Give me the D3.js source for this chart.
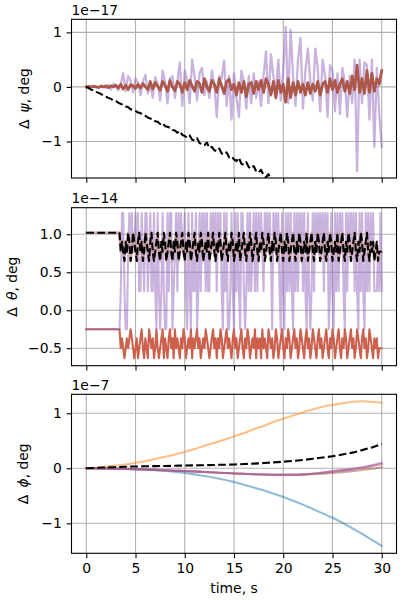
<!DOCTYPE html>
<html><head><meta charset="utf-8">
<script src="https://cdn.jsdelivr.net/npm/d3@7"></script>
<style>body{margin:0;background:#fff}svg{display:block}text{font-family:"DejaVu Sans",sans-serif}</style>
</head><body><svg id="c" width="400" height="600"></svg>
<script>
// ---------- data ----------
const tStep = 0.25;           // noisy series sample step, s
const tStepFine = 0.125;      // finely sampled series step, s
const tStepSmooth = 1;        // smooth series sample step, s
const xTicks = [0,5,10,15,20,25,30];

// Panel 1: delta psi (x1e-17)
const psiTicks = [-1,0,1];
const psiPurple = [0,0.01,-0.01,0.02,0,-0.02,0.03,0.01,-0.02,0.04,
 -0.05,0.06,0.02,-0.06,0.05,0.25,-0.08,0.2,0.12,-0.1,
 0.15,0.08,-0.15,0.1,0.22,-0.12,0.05,-0.2,0.18,0.05,
 -0.25,0.3,0.1,-0.3,0.15,0.2,-0.2,0.1,0.45,-0.35,
 0.3,0.1,-0.3,0.5,0.2,-0.25,0.25,0.35,-0.15,0.1,
 -0.2,0.3,0.05,-0.55,0.2,0.15,0.48,-0.35,0.2,-0.6,
 0.25,-0.2,-0.55,0.3,0.1,-0.4,0.2,-0.3,0.25,-0.2,
 0.1,-0.35,0.2,0.65,-0.3,0.6,0.2,-0.1,0.5,-0.25,
 0.3,1.1,-0.3,1.05,0.2,-0.35,0.5,0.9,-0.4,0.3,
 0.7,0.1,-0.25,0.7,0.35,-0.45,0.5,0.2,-0.55,0.4,
 0.3,-0.45,0.25,-0.5,0.35,0.1,-0.55,0.2,-0.3,0.5,
 -1.55,0.5,-0.3,0.45,0.4,-0.6,0.5,-1.1,0.35,-0.5,
 -1.1];
const psiRed = [0,0.01,0,0.01,0,-0.01,0.01,0,0.02,-0.01,
 0.02,0,0.03,-0.02,0.05,-0.04,0.03,-0.05,0.04,0.02,
 -0.03,0.05,-0.02,0.06,0,-0.05,0.1,-0.04,0.08,0.02,
 -0.06,0.1,0.03,-0.08,0.12,0,-0.07,0.1,0.05,-0.1,
 0.08,-0.05,0.12,0.02,-0.08,0.1,0.06,-0.1,0.15,0,
 -0.08,0.12,0.05,-0.1,0.15,0.02,-0.12,0.1,0.14,-0.05,
 0.05,-0.15,0.08,-0.1,0.1,-0.18,0.05,0.08,-0.12,0.1,
 -0.05,0.12,-0.1,0.15,0.05,-0.15,0.1,-0.2,0.12,-0.1,
 0.05,-0.28,0.15,-0.2,0.08,-0.15,0.1,-0.1,0.05,-0.15,
 0.08,-0.12,0.05,-0.08,0.1,-0.15,0.05,0.1,-0.1,0.15,
 -0.05,0.12,-0.1,0.05,0.15,-0.08,0.1,-0.12,0.2,-0.05,
 0.4,-0.1,0.15,-0.12,0.3,-0.1,0.25,-0.08,0.15,0.05,
 0.3];
const psiBlack = [0,-0.02,-0.05,-0.06,-0.09,-0.11,-0.13,-0.16,-0.18,-0.2,
 -0.22,-0.25,-0.26,-0.29,-0.31,-0.33,-0.36,-0.37,-0.41,-0.42,
 -0.44,-0.47,-0.48,-0.52,-0.53,-0.56,-0.58,-0.59,-0.63,-0.64,
 -0.68,-0.66,-0.72,-0.73,-0.75,-0.79,-0.8,-0.84,-0.81,-0.88,
 -0.9,-0.93,-0.89,-0.97,-0.98,-0.94,-1.03,-1.05,-1.07,-1.02,
 -1.12,-1.1,-1.16,-1.18,-1.13,-1.22,-1.24,-1.2,-1.29,-1.27,
 -1.33,-1.36,-1.3,-1.41,-1.43,-1.38,-1.47,-1.5,-1.45,-1.55,
 -1.57,-1.52,-1.62,-1.66,-1.6,-1.7,-1.72,-1.69,-1.78,-1.8,
 -1.79];

// Panel 2: delta theta (x1e-14), 0.125 s samples
const thetaTicks = [-0.5,0,0.5,1];
const thetaPurple = [-0.25,-0.25,-0.25,-0.25,-0.25,-0.25,-0.25,-0.25,
 -0.25,-0.25,-0.25,-0.25,-0.25,-0.25,-0.25,-0.25,
 -0.25,-0.25,-0.25,-0.25,-0.25,-0.25,-0.25,-0.25,
 -0.25,-0.25,-0.25,-0.25,
 0.25,1.28,1.28,0.25,-0.25,-0.25,0.77,1.28,
 0.77,1.28,0.77,0.77,1.28,0.77,1.28,0.25,
 0.25,1.28,0.77,0.25,1.28,1.28,0.25,0.77,
 1.28,0.25,0.25,1.28,0.25,-0.25,1.28,0.25,
 -0.25,0.25,1.28,0.25,-0.25,-0.25,1.28,0.25,
 1.28,1.28,-0.25,0.25,0.77,1.28,0.25,1.28,
 0.77,1.28,0.77,0.77,1.28,0.25,-0.25,1.28,
 0.25,-0.25,1.28,0.25,0.25,1.28,-0.25,0.25,
 1.28,0.25,1.28,0.77,1.28,0.25,1.28,0.25,
 0.25,1.28,0.77,1.28,0.77,1.28,0.25,1.28,
 0.77,1.28,0.25,-0.25,1.28,0.25,1.28,-0.25,
 -0.25,0.25,1.28,0.25,-0.25,1.28,0.25,1.28,
 0.25,-0.25,1.28,1.28,0.25,-0.25,0.25,1.28,
 0.25,1.28,0.25,0.77,1.28,0.25,1.28,0.25,
 1.28,0.77,1.28,0.77,0.25,1.28,0.77,1.28,
 0.77,1.28,0.77,-0.25,1.28,0.77,1.28,0.77,
 1.28,0.25,-0.25,1.28,0.25,-0.25,1.28,0.25,
 1.28,0.25,1.28,0.25,-0.25,1.28,0.25,1.28,
 0.25,1.28,0.77,1.28,0.25,1.28,0.25,-0.25,
 1.28,0.25,-0.25,0.25,1.28,0.25,1.28,0.77,
 1.28,0.77,1.28,0.77,1.28,0.25,1.28,0.77,
 1.28,-0.25,0.25,1.28,0.25,-0.25,1.28,0.25,
 1.28,0.25,1.28,0.77,1.28,0.25,-0.25,1.28,
 0.25,1.28,0.77,1.28,0.77,1.28,0.25,1.28,
 0.25,-0.25,1.28,0.25,1.28,0.25,-0.25,1.28,
 0.25,1.28,0.25,1.28,0.77,1.28,0.25,0.25,
 0.25,0.77,0.25,1.28,0.25];
const thetaRed = [-0.25,-0.25,-0.25,-0.25,-0.25,-0.25,-0.25,-0.25,
 -0.25,-0.25,-0.25,-0.25,-0.25,-0.25,-0.25,-0.25,
 -0.25,-0.25,-0.25,-0.25,-0.25,-0.25,-0.25,-0.25,
 -0.25,-0.25,-0.25,-0.25,
 -0.5,-0.37,-0.5,-0.63,-0.5,-0.37,-0.5,-0.37,
 -0.25,-0.37,-0.5,-0.63,-0.5,-0.37,-0.63,-0.5,
 -0.37,-0.25,-0.5,-0.63,-0.37,-0.5,-0.63,-0.25,
 -0.37,-0.5,-0.37,-0.63,-0.5,-0.25,-0.5,-0.63,
 -0.5,-0.37,-0.25,-0.63,-0.37,-0.5,-0.63,-0.37,
 -0.25,-0.5,-0.37,-0.63,-0.25,-0.5,-0.37,-0.5,
 -0.63,-0.37,-0.5,-0.25,-0.37,-0.63,-0.5,-0.37,
 -0.5,-0.25,-0.63,-0.37,-0.5,-0.37,-0.25,-0.5,
 -0.37,-0.63,-0.5,-0.37,-0.5,-0.25,-0.37,-0.5,
 -0.63,-0.5,-0.37,-0.25,-0.5,-0.37,-0.63,-0.37,
 -0.5,-0.25,-0.37,-0.63,-0.5,-0.37,-0.25,-0.5,
 -0.37,-0.5,-0.63,-0.37,-0.25,-0.5,-0.37,-0.63,
 -0.5,-0.37,-0.25,-0.5,-0.63,-0.37,-0.5,-0.25,
 -0.37,-0.63,-0.5,-0.37,-0.5,-0.25,-0.63,-0.37,
 -0.5,-0.37,-0.63,-0.25,-0.5,-0.37,-0.5,-0.63,
 -0.25,-0.37,-0.5,-0.37,-0.63,-0.5,-0.25,-0.37,
 -0.63,-0.5,-0.37,-0.25,-0.5,-0.63,-0.37,-0.5,
 -0.25,-0.37,-0.63,-0.5,-0.37,-0.25,-0.5,-0.37,
 -0.63,-0.5,-0.25,-0.37,-0.5,-0.63,-0.37,-0.25,
 -0.5,-0.37,-0.63,-0.5,-0.25,-0.37,-0.5,-0.63,
 -0.37,-0.25,-0.5,-0.37,-0.63,-0.5,-0.37,-0.25,
 -0.5,-0.63,-0.37,-0.5,-0.25,-0.37,-0.63,-0.5,
 -0.37,-0.25,-0.5,-0.63,-0.37,-0.5,-0.25,-0.37,
 -0.63,-0.5,-0.37,-0.25,-0.5,-0.37,-0.63,-0.5,
 -0.25,-0.37,-0.5,-0.63,-0.37,-0.25,-0.5,-0.37,
 -0.63,-0.5,-0.25,-0.37,-0.5,-0.63,-0.37,-0.5,
 -0.37,-0.63,-0.5,-0.5,-0.5];
const thetaBlack = [1.02,1.02,1.02,1.02,1.02,1.02,1.02,1.02,
 1.02,1.02,1.02,1.02,1.02,1.02,1.02,1.02,
 1.02,1.02,1.02,1.02,1.02,1.02,1.02,1.02,
 1.02,1.02,1.02,1.02,
 0.77,0.9,0.77,0.65,0.9,0.77,1.02,0.9,
 0.65,0.77,1.02,0.9,0.77,0.65,0.9,1.02,
 0.77,0.9,0.65,0.77,1.02,0.9,0.77,0.65,
 0.9,1.02,0.77,0.65,0.77,0.9,1.02,0.77,
 0.65,0.9,0.77,1.02,0.9,0.65,0.77,0.9,
 1.02,0.77,0.65,0.9,0.77,1.02,0.9,0.65,
 0.77,0.9,1.02,0.77,0.65,0.9,0.77,1.02,
 0.9,0.65,0.77,0.9,1.02,0.77,0.65,0.9,
 0.77,1.02,0.9,0.65,0.77,0.9,0.77,1.02,
 0.65,0.77,0.9,1.02,0.77,0.65,0.9,0.77,
 1.02,0.9,0.65,0.77,0.9,1.02,0.77,0.65,
 0.9,0.77,1.02,0.9,0.65,0.77,0.9,0.77,
 1.02,0.65,0.77,0.9,1.02,0.77,0.65,0.9,
 0.77,1.02,0.9,0.65,0.77,0.9,1.02,0.77,
 0.65,0.9,0.77,1.02,0.9,0.65,0.77,0.9,
 1.02,0.77,0.65,0.9,0.77,1.02,0.9,0.65,
 0.77,0.9,1.02,0.77,0.65,0.9,0.77,1.02,
 0.9,0.65,0.77,0.9,1.02,0.77,0.65,0.9,
 0.77,1.02,0.9,0.65,0.77,0.9,0.77,1.02,
 0.65,0.77,0.9,1.02,0.77,0.65,0.9,0.77,
 1.02,0.9,0.65,0.77,0.9,1.02,0.77,0.65,
 0.9,0.77,1.02,0.9,0.65,0.77,0.9,0.77,
 1.02,0.65,0.77,0.9,1.02,0.77,0.65,0.9,
 0.77,1.02,0.9,0.65,0.77,0.9,1.02,0.77,
 0.65,0.9,0.77,1.02,0.9,0.65,0.77,0.9,
 1.02,0.77,0.65,0.9,0.77,0.9,0.65,0.77,
 0.9,0.65,0.77,0.77,0.77];

// Panel 3: delta phi (x1e-7), 1 s samples
const phiTicks = [-1,0,1];
const phiOrange = [0,0.01,0.03,0.05,0.07,0.1,0.13,0.17,0.21,0.25,0.3,0.35,0.41,0.46,0.52,0.58,0.64,0.71,0.77,0.84,0.9,0.96,1.02,1.07,1.12,1.15,1.18,1.21,1.22,1.21,1.19];
const phiBlue = [0,0,-0.003,-0.006,-0.01,-0.015,-0.025,-0.035,-0.05,-0.065,-0.085,-0.11,-0.14,-0.17,-0.21,-0.25,-0.3,-0.35,-0.4,-0.46,-0.52,-0.59,-0.66,-0.74,-0.82,-0.9,-0.99,-1.09,-1.19,-1.3,-1.41];
const phiBlack = [0,0.008,0.015,0.022,0.028,0.033,0.037,0.04,0.043,0.046,0.05,0.053,0.057,0.06,0.065,0.07,0.077,0.085,0.095,0.107,0.12,0.135,0.152,0.172,0.195,0.22,0.25,0.285,0.33,0.38,0.44];
const phiPurple = [0,-0.002,-0.005,-0.008,-0.012,-0.016,-0.022,-0.028,-0.035,-0.043,-0.05,-0.058,-0.066,-0.075,-0.085,-0.093,-0.1,-0.107,-0.112,-0.116,-0.118,-0.115,-0.108,-0.095,-0.075,-0.05,-0.028,-0.008,0.02,0.055,0.1];
const phiRed = [0,-0.002,-0.005,-0.008,-0.012,-0.016,-0.022,-0.028,-0.035,-0.043,-0.05,-0.058,-0.066,-0.075,-0.085,-0.093,-0.1,-0.107,-0.112,-0.116,-0.118,-0.117,-0.112,-0.1,-0.082,-0.06,-0.04,-0.02,0.005,0.04,0.08];
const phiBrown = [0,-0.002,-0.005,-0.008,-0.012,-0.016,-0.022,-0.028,-0.035,-0.043,-0.05,-0.058,-0.066,-0.075,-0.085,-0.093,-0.1,-0.107,-0.112,-0.116,-0.118,-0.118,-0.115,-0.108,-0.098,-0.085,-0.07,-0.052,-0.032,-0.008,0.02];

// ---------- drawing ----------
const svg = d3.select("#c");
const X0 = 71.5, X1 = 396.5;
const x = d3.scaleLinear().domain([-1.5, 31.5]).range([X0, X1]);
const TL = 4.86, PAD = 4.86, FS = 13.9;

function panel(cfg, idx) {
  const y = d3.scaleLinear().domain(cfg.ydom).range([cfg.bottom, cfg.top]);
  const g = svg.append("g");
  const clipId = "clip" + idx;
  g.append("clipPath").attr("id", clipId).append("rect")
    .attr("x", X0).attr("y", cfg.top).attr("width", X1 - X0).attr("height", cfg.bottom - cfg.top);
  // grid
  g.append("g").selectAll("line").data(xTicks).join("line")
    .attr("x1", d => x(d)).attr("x2", d => x(d)).attr("y1", cfg.top).attr("y2", cfg.bottom)
    .attr("stroke", "#b0b0b0").attr("stroke-width", 1.1);
  g.append("g").selectAll("line").data(cfg.ticks).join("line")
    .attr("x1", X0).attr("x2", X1).attr("y1", d => y(d)).attr("y2", d => y(d))
    .attr("stroke", "#b0b0b0").attr("stroke-width", 1.1);
  // series
  const lg = g.append("g").attr("clip-path", `url(#${clipId})`);
  cfg.series.forEach(s => {
    const line = d3.line().x((d, i) => x(i * s.step)).y(d => y(d));
    if (s.curve === "smooth") line.curve(d3.curveMonotoneX);
    lg.append("path").attr("d", line(s.data)).attr("fill", "none")
      .attr("stroke", s.color).attr("stroke-opacity", s.alpha ?? 1)
      .attr("stroke-width", s.width ?? 2.08)
      .attr("stroke-dasharray", s.dash ? "7.7,3.3" : null)
      .attr("stroke-linejoin", "round").attr("stroke-linecap", s.dash ? "butt" : "square");
  });
  // axes via d3
  const yAxis = d3.axisLeft(y).tickValues(cfg.ticks).tickFormat(cfg.fmt).tickSize(TL).tickPadding(PAD);
  const ya = g.append("g").attr("transform", `translate(${X0},0)`).call(yAxis);
  const xAxis = d3.axisBottom(x).tickValues(xTicks).tickSize(TL).tickPadding(PAD)
    .tickFormat(cfg.xlabels ? d3.format("d") : () => "");
  const xa = g.append("g").attr("transform", `translate(0,${cfg.bottom})`).call(xAxis);
  [ya, xa].forEach(a => {
    a.select(".domain").remove();
    a.selectAll(".tick line").attr("stroke", "#000").attr("stroke-width", 1.1);
    a.selectAll(".tick text").attr("font-size", FS).attr("fill", "#000")
      .attr("font-family", "DejaVu Sans");
  });
  // spines
  g.append("rect").attr("x", X0).attr("y", cfg.top).attr("width", X1 - X0).attr("height", cfg.bottom - cfg.top)
    .attr("fill", "none").attr("stroke", "#000").attr("stroke-width", 1.1);
  // offset text
  g.append("text").attr("x", X0).attr("y", cfg.top - 4.5).attr("font-size", FS).text(cfg.offset);
  // y label
  const cy = (cfg.top + cfg.bottom) / 2;
  const t = g.append("text").attr("transform", `translate(${cfg.labelX},${cy}) rotate(-90)`)
    .attr("text-anchor", "middle").attr("font-size", FS);
  t.append("tspan").text("Δ\u2009 ");
  t.append("tspan").attr("font-style", "italic").text(cfg.greek);
  t.append("tspan").text(", deg");
}

const cfgs = [
  { top: 19.3, bottom: 178, ydom: [-1.67, 1.24], ticks: psiTicks, fmt: d3.format("d"), offset: "1e\u221217",
    greek: "ψ", labelX: 29, series: [
      { data: psiPurple, step: tStep, color: "#9467bd", alpha: 0.5, width: 2.3 },
      { data: psiRed, step: tStep, color: "#ad574b", alpha: 1, width: 2.8 },
      { data: psiBlack, step: tStep, color: "#000", dash: true }
    ] },
  { top: 207.7, bottom: 365.7, ydom: [-0.73, 1.35], ticks: thetaTicks, fmt: d3.format(".1f"), offset: "1e\u221214",
    greek: "θ", labelX: 17, series: [
      { data: thetaRed, step: tStepFine, color: "#cd604c", alpha: 1 },
      { data: thetaPurple, step: tStepFine, color: "#9467bd", alpha: 0.5 },
      { data: thetaBlack, step: tStepFine, color: "#c99a96", alpha: 0.8, width: 2.6 },
      { data: thetaBlack, step: tStepFine, color: "#000", dash: true }
    ] },
  { top: 394.3, bottom: 553.3, ydom: [-1.545, 1.345], ticks: phiTicks, fmt: d3.format("d"), offset: "1e\u22127",
    greek: "ϕ", labelX: 28, xlabels: true, series: [
      { data: phiBlue, step: tStepSmooth, color: "#1f77b4", alpha: 0.5, curve: "smooth" },
      { data: phiOrange, step: tStepSmooth, color: "#ff7f0e", alpha: 0.5, curve: "smooth" },
      { data: phiBrown, step: tStepSmooth, color: "#8c564b", alpha: 0.5, curve: "smooth" },
      { data: phiRed, step: tStepSmooth, color: "#d62728", alpha: 0.5, curve: "smooth" },
      { data: phiPurple, step: tStepSmooth, color: "#9467bd", alpha: 0.6, curve: "smooth" },
      { data: phiBlack, step: tStepSmooth, color: "#000", dash: true, curve: "smooth" }
    ] }
];
cfgs.forEach(panel);

svg.append("text").attr("x", (X0 + X1) / 2).attr("y", 593).attr("text-anchor", "middle")
  .attr("font-size", FS).text("time, s");
</script></body></html>
